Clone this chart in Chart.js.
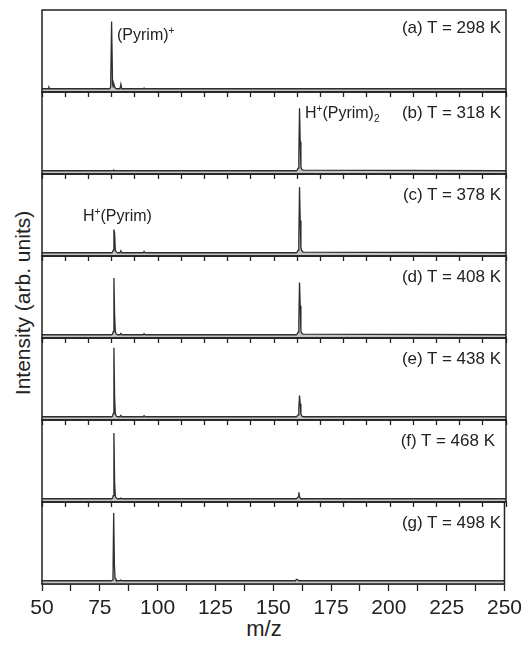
<!DOCTYPE html>
<html>
<head>
<meta charset="utf-8">
<script src="https://cdn.jsdelivr.net/npm/chart.js@4"></script>
<style>
  body { margin: 0; background: #fff; }
  #wrap { position: relative; width: 527px; height: 645px; overflow: hidden; font-family: "Liberation Sans", Arial, sans-serif; color: #222; }
  #wrap canvas { position: absolute; left: 0; }
  .lbl { position: absolute; font-size: 17px; line-height: 17px; white-space: nowrap; }
  .ann { position: absolute; font-size: 16px; line-height: 16px; white-space: nowrap; }
  .ann sup { font-size: 10px; vertical-align: 6px; line-height: 0; }
  .ann sub { font-size: 10px; vertical-align: -4px; line-height: 0; }
  #ytitle { position: absolute; font-size: 21px; line-height: 21px; left: 22px; top: 303px; transform: translate(-50%, -50%) rotate(-90deg); white-space: nowrap; }
  #xtitle { position: absolute; font-size: 22px; line-height: 22px; left: 264px; top: 629px; transform: translate(-50%, -50%); }
</style>
</head>
<body>
<div id="wrap">
  <div id="ytitle">Intensity (arb. units)</div>
  <div id="xtitle">m/z</div>
</div>
<script>
// m/z sampling points shared by all spectra
const mz = [50, 52.6, 53, 53.4, 79.2, 79.6, 80, 80.4, 80.7, 81, 81.3, 81.6, 82, 82.6, 83.6, 84, 84.4,
  93.6, 94, 94.4, 159.6, 160, 160.4, 160.7, 161, 161.3, 161.6, 162, 162.6, 250];

const int298 = [0, 0, 0.025, 0, 0, 0.03, 1.04, 0.08, 0.03, 0.07, 0.03, 0.01, 0, 0, 0, 0.07, 0,
  0, 0.01, 0, 0, 0, 0, 0, 0, 0, 0, 0, 0, 0];
const int318 = [0, 0, 0, 0, 0, 0, 0, 0, 0, 0.01, 0, 0, 0, 0, 0, 0, 0,
  0, 0, 0, 0, 0.01, 0.04, 0.2, 0.97, 0.45, 0.06, 0.02, 0.01, 0];
const int378 = [0, 0, 0, 0, 0, 0, 0, 0.01, 0.04, 0.36, 0.3, 0.04, 0.01, 0, 0, 0.03, 0,
  0, 0.02, 0, 0, 0.01, 0.04, 0.2, 1.02, 0.5, 0.08, 0.03, 0.01, 0];
const int408 = [0, 0, 0, 0, 0, 0, 0, 0.01, 0.05, 0.88, 0.3, 0.05, 0.01, 0, 0, 0.02, 0,
  0, 0.015, 0, 0, 0.01, 0.04, 0.2, 0.81, 0.45, 0.06, 0.02, 0.01, 0];
const int438 = [0, 0, 0, 0, 0, 0, 0, 0.01, 0.05, 1.07, 0.3, 0.05, 0.01, 0, 0, 0.02, 0,
  0, 0.015, 0, 0, 0.01, 0.03, 0.12, 0.33, 0.2, 0.04, 0.01, 0, 0];
const int468 = [0, 0, 0, 0, 0, 0, 0, 0.01, 0.05, 1.02, 0.25, 0.04, 0.01, 0, 0, 0.01, 0,
  0, 0, 0, 0, 0.01, 0.03, 0.1, 0.04, 0.01, 0, 0, 0, 0];
const int498 = [0, 0, 0, 0, 0, 0, 0, 0.01, 0.05, 1.05, 0.25, 0.04, 0.01, 0, 0, 0.01, 0,
  0, 0, 0, 0, 0.02, 0.02, 0.01, 0, 0, 0, 0, 0, 0];

const spectra = [int298, int318, int378, int408, int438, int468, int498];
const panelLabels = ['(a) T = 298 K', '(b) T = 318 K', '(c) T = 378 K', '(d) T = 408 K',
  '(e) T = 438 K', '(f) T = 468 K', '(g) T = 498 K'];
const xTicks = [50, 75, 100, 125, 150, 175, 200, 225, 250];

const plotLeft = 42, plotRight = 506, plotTop = 10, panelH = 82;
const wrap = document.getElementById('wrap');

const framePlugin = {
  id: 'frame',
  afterDraw(chart) {
    const { ctx, chartArea: a } = chart;
    ctx.save();
    ctx.strokeStyle = '#222';
    ctx.lineWidth = 1.5;
    ctx.strokeRect(a.left, a.top, a.width, a.height);
    ctx.restore();
  }
};

spectra.forEach((ints, i) => {
  const last = i === spectra.length - 1;
  // bottom panel keeps a fixed-height axis so its labels are not clipped
  const axisH = last ? 40 : 0;
  const padTop = 2, padBottom = last ? 2 : 10;
  const canvas = document.createElement('canvas');
  canvas.width = 527;
  canvas.height = padTop + panelH + axisH + padBottom;
  canvas.style.top = (plotTop + i * panelH - padTop) + 'px';
  wrap.appendChild(canvas);

  new Chart(canvas.getContext('2d'), {
    type: 'line',
    data: {
      datasets: [{
        data: mz.map((m, k) => ({ x: m, y: ints[k] })),
        borderColor: '#2e2e2e',
        borderWidth: 1.3,
        backgroundColor: '#c4c4c4',
        fill: 'start',
        pointRadius: 0,
        tension: 0
      }]
    },
    options: {
      responsive: false,
      animation: false,
      layout: { padding: { left: plotLeft, right: 527 - plotRight, top: padTop, bottom: padBottom } },
      plugins: { legend: { display: false }, tooltip: { enabled: false } },
      scales: {
        x: {
          type: 'linear', min: 50, max: 250,
          afterFit: s => { s.height = axisH; },
          border: { display: true, color: '#222', width: 1.5 },
          grid: { drawOnChartArea: false, drawTicks: true, tickLength: last ? 7 : 5, tickColor: '#222', tickWidth: 1.3 },
          ticks: last ? {
            stepSize: 12.5, autoSkip: false, maxRotation: 0, padding: 5,
            color: '#222', font: { family: 'Liberation Sans', size: 21 },
            callback: v => xTicks.includes(v) ? String(v) : ''
          } : { stepSize: 10, display: false }
        },
        y: { display: false, min: -0.05, max: 1.22 }
      }
    },
    plugins: [framePlugin]
  });

  const lbl = document.createElement('div');
  lbl.className = 'lbl';
  lbl.textContent = panelLabels[i];
  lbl.style.right = (i === 5 ? 32 : 26) + 'px';
  lbl.style.top = (plotTop + i * panelH + (i === 0 ? 9 : 12)) + 'px';
  wrap.appendChild(lbl);
});

const annotations = [
  { html: '(Pyrim)<sup>+</sup>', left: 117, top: 27 },
  { html: 'H<sup>+</sup>(Pyrim)<sub>2</sub>', left: 305, top: 105 },
  { html: 'H<sup>+</sup>(Pyrim)', left: 83, top: 208 }
];
annotations.forEach(a => {
  const d = document.createElement('div');
  d.className = 'ann';
  d.innerHTML = a.html;
  d.style.left = a.left + 'px';
  d.style.top = a.top + 'px';
  wrap.appendChild(d);
});
</script>
</body>
</html>
